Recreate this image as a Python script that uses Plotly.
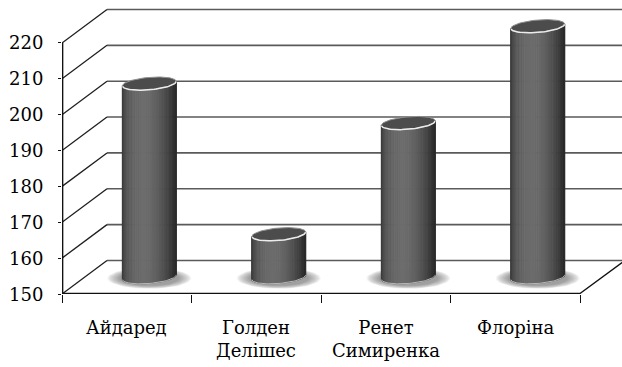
import numpy as np
import plotly.graph_objects as go

# ---- data ----
categories = ["Айдаред", "Голден<br>Делішес", "Ренет<br>Симиренка", "Флоріна"]
values = [204, 162, 193, 220]
y_ticks = [150, 160, 170, 180, 190, 200, 210, 220]

# ---- geometry (pixel scale of the pseudo-3D frame) ----
W, H = 622, 367
L_M, B_M = 62, 73
PX_X = 129.5            # px per category slot
PX_Y = 3.586            # px per value unit
DX = 45 / PX_X          # depth offset (x units)
DY = 33.5 / PX_Y        # depth offset (y units)
X0 = -0.5
X1 = X0 + (W - L_M) / PX_X
Y0 = y_ticks[0]
Y1 = Y0 + (H - B_M) / PX_Y
XB = len(categories) - 0.5   # right end of floor front

RA, RB = 27.0, 6.2      # cylinder ellipse semi-axes (px)
TILT = np.deg2rad(5)

FONT = "DejaVu Serif"


def ell(cx, cy, t, a=RA, b=RB, tilt=TILT):
    x = a * np.cos(t)
    y = b * np.sin(t)
    xr = x * np.cos(tilt) - y * np.sin(tilt)
    yr = x * np.sin(tilt) + y * np.cos(tilt)
    return cx + xr / PX_X, cy + yr / PX_Y


fig = go.Figure()


def add(xs, ys, **kw):
    fig.add_trace(go.Scatter(x=xs, y=ys, mode="lines", hoverinfo="skip",
                             showlegend=False, **kw))


# ---- walls / grid ----
dx_, dy_, hx, hy = [], [], [], []
for v in y_ticks:
    dx_ += [X0, X0 + DX, None]
    dy_ += [v, v + DY, None]
    hx += [X0 + DX, XB + DX + 0.3, None]
    hy += [v + DY, v + DY, None]
add(hx, hy, line=dict(color="#5a5a5a", width=1.6))
add(dx_, dy_, line=dict(color="#1e1e1e", width=1.3))

# floor front + right diagonal + front vertical axis
add([X0, XB, XB + DX], [Y0 + 0.15, Y0 + 0.15, Y0 + DY], line=dict(color="#111", width=1.4))
add([X0 + 0.005, X0 + 0.005], [y_ticks[0], y_ticks[-1]], line=dict(color="#111", width=1.4))

# ---- shadows ----
NS = 10
for k in range(NS):
    s = 1.0 - 0.032 * k
    g = int(244 - (244 - 160) * (k / (NS - 1)) ** 0.8)
    xs, ys = [], []
    for i, v in enumerate(values):
        cx = i + DX / 2
        cy = Y0 + DY / 2 - 1.0 / PX_Y
        t = np.linspace(0, 2 * np.pi, 60)
        ex, ey = ell(cx, cy, t, a=42 * s, b=10.5 * s, tilt=0)
        xs += list(ex) + [None]
        ys += list(ey) + [None]
    c = f"rgb({g},{g},{g})"
    add(xs, ys, fill="toself", fillcolor=c, line=dict(color=c, width=0))

# ---- cylinder bodies (shaded strips) ----
NSTRIP = 40
tt = np.linspace(np.pi, 2 * np.pi, NSTRIP + 1)
for j in range(NSTRIP):
    tm = 0.5 * (tt[j] + tt[j + 1])
    theta = tm - 1.5 * np.pi
    L = 44 + 64 * max(0.0, np.cos(theta + 0.25)) ** 1.6
    g = int(round(L))
    c = f"rgb({g},{g},{g})"
    seg = np.linspace(tt[j], tt[j + 1], 4)
    xs, ys = [], []
    for i, v in enumerate(values):
        cx = i + DX / 2
        yb = Y0 + DY / 2
        yt = v + DY / 2
        bx, by = ell(cx, yb, seg)
        tx, ty = ell(cx, yt, seg[::-1])
        xs += list(bx) + list(tx) + [bx[0], None]
        ys += list(by) + list(ty) + [by[0], None]
    add(xs, ys, fill="toself", fillcolor=c, line=dict(color=c, width=0.8))

# bottom rims, tops
for i, v in enumerate(values):
    cx = i + DX / 2
    yb = Y0 + DY / 2
    yt = v + DY / 2
    bx, by = ell(cx, yb, np.linspace(np.pi, 2 * np.pi, 50))
    add(list(bx), list(by), line=dict(color="#b8b8b8", width=1.0))
    t = np.linspace(0, 2 * np.pi, 80)
    ex, ey = ell(cx, yt, t)
    add(list(ex), list(ey), fill="toself", fillcolor="#4c4c4c",
        line=dict(color="#909090", width=1.0))
    fx, fy = ell(cx, yt, np.linspace(np.pi * 1.03, 2 * np.pi * 0.99, 50))
    add(list(fx), list(fy), line=dict(color="#ececec", width=1.5))

# ---- tick labels as text (serif) ----
for v in y_ticks:
    fig.add_annotation(x=X0, y=v, xref="x", yref="y", text=str(v), showarrow=False,
                       xanchor="right", yanchor="middle", xshift=-17,
                       font=dict(family=FONT, size=18))
for i, c in enumerate(categories):
    fig.add_annotation(x=i, y=0, xref="x", yref="paper", text=c, showarrow=False,
                       xanchor="center", yanchor="top", yshift=-21,
                       font=dict(family=FONT, size=18))

fig.update_layout(
    width=W, height=H,
    margin=dict(l=L_M, r=0, t=0, b=B_M),
    paper_bgcolor="white", plot_bgcolor="white",
    font=dict(color="black"),
    xaxis=dict(range=[X0, X1], showgrid=False, zeroline=False, showline=False,
               tickvals=list(range(len(categories))), showticklabels=False,
               ticks="",
               minor=dict(tickvals=[k - 0.5 for k in range(len(categories) + 1)],
                          ticks="outside", ticklen=8, tickcolor="#111",
                          tickwidth=1.2, showgrid=False)),
    yaxis=dict(range=[Y0, Y1], showgrid=False, zeroline=False, showline=False,
               tickvals=y_ticks, ticks="outside", ticklen=3, tickcolor="#111",
               tickwidth=1.2, showticklabels=False),
)

fig.write_html("out.html")
